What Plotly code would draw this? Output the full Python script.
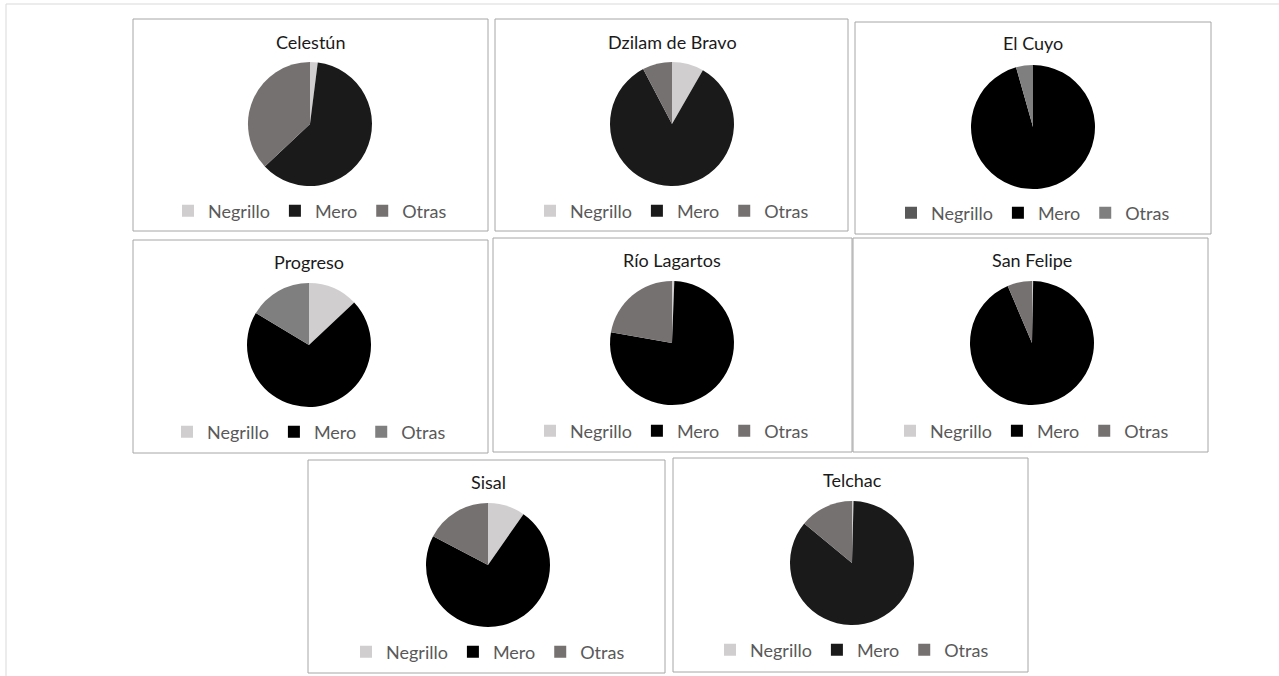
import plotly.graph_objects as go

W, H = 1279, 676

# ---- data (percent share of catch) ----
sites = ["Celestún", "Dzilam de Bravo", "El Cuyo", "Progreso",
         "Río Lagartos", "San Felipe", "Sisal", "Telchac"]
labels = ["Negrillo", "Mero", "Otras"]
negrillo = [2, 8.3, 0, 13, 0.6, 0.3, 9.7, 0.4]
mero = [61, 84, 95.6, 70.6, 77.2, 93.3, 73, 85.6]
otras = [37, 7.7, 4.4, 16.4, 22.2, 6.4, 17.3, 14]

# ---- styling per panel ----
colors = [
    ["#D0CECE", "#1A1A1A", "#767171"],
    ["#D0CECE", "#1A1A1A", "#767171"],
    ["#595959", "#000000", "#7F7F7F"],
    ["#D0CECE", "#000000", "#7F7F7F"],
    ["#D0CECE", "#000000", "#767171"],
    ["#D0CECE", "#000000", "#767171"],
    ["#D0CECE", "#000000", "#767171"],
    ["#D0CECE", "#1A1A1A", "#767171"],
]
# panel boxes (px): x0, y0, x1, y1
boxes = [
    (133, 19, 488, 231), (495, 19, 848, 231), (855, 22, 1211, 234),
    (133, 240, 488, 453), (493, 238, 852, 452), (853, 238, 1208, 452),
    (308, 460, 665, 673), (673, 458, 1028, 672),
]
# pie centers (px) and radius
centers = [(310, 124), (672, 124), (1033, 127), (309, 345),
           (672, 343), (1032, 343), (488, 565), (852, 563)]
R = 62
title_y = [42, 42, 43, 262, 260, 260, 482, 480]
legend_y = [211, 211, 213, 432, 431, 431, 652, 650]

FONT = "Lato"

def px2x(p):
    return p / W

def py2y(p):
    return 1 - p / H

fig = go.Figure()
layout_legends = {}
shapes = []
annotations = []

for i, site in enumerate(sites):
    cx, cy = centers[i]
    lname = "legend" if i == 0 else f"legend{i+1}"
    # zero-width spaces keep each panel's legend entries distinct
    panel_labels = [lab + "\u200b" * i for lab in labels]
    fig.add_trace(go.Pie(
        labels=panel_labels,
        values=[negrillo[i], mero[i], otras[i]],
        sort=False,
        direction="clockwise",
        rotation=0,
        textinfo="none",
        hoverinfo="label+percent",
        marker=dict(colors=colors[i], line=dict(width=0)),
        domain=dict(x=[px2x(cx - R), px2x(cx + R)],
                    y=[py2y(cy + R), py2y(cy - R)]),
        legend=lname,
        showlegend=True,
        name=site,
    ))
    layout_legends[lname] = dict(
        orientation="h",
        x=px2x(cx), xanchor="center",
        y=py2y(legend_y[i]), yanchor="middle",
        bgcolor="rgba(0,0,0,0)",
        font=dict(family=FONT, size=18, color="#595959"),
        itemwidth=30,
        traceorder="normal",
    )
    x0, y0, x1, y1 = boxes[i]
    shapes.append(dict(type="rect", xref="paper", yref="paper",
                       x0=px2x(x0), x1=px2x(x1), y0=py2y(y1), y1=py2y(y0),
                       line=dict(color="#A6A6A6", width=1),
                       fillcolor="rgba(0,0,0,0)", layer="below"))
    annotations.append(dict(text=site, xref="paper", yref="paper",
                            x=px2x(cx), y=py2y(title_y[i]),
                            xanchor="center", yanchor="middle",
                            showarrow=False,
                            font=dict(family=FONT, size=18, color="#1A1A1A")))

# faint page border (top and left)
shapes.append(dict(type="line", xref="paper", yref="paper",
                   x0=px2x(6), x1=1, y0=py2y(4), y1=py2y(4),
                   line=dict(color="#D9D9D9", width=1)))
shapes.append(dict(type="line", xref="paper", yref="paper",
                   x0=px2x(6), x1=px2x(6), y0=0, y1=py2y(4),
                   line=dict(color="#D9D9D9", width=1)))

fig.update_layout(
    width=W, height=H,
    margin=dict(l=0, r=0, t=0, b=0),
    paper_bgcolor="white",
    plot_bgcolor="white",
    font=dict(family=FONT),
    shapes=shapes,
    annotations=annotations,
    **layout_legends,
)

fig.write_html("out.html")
